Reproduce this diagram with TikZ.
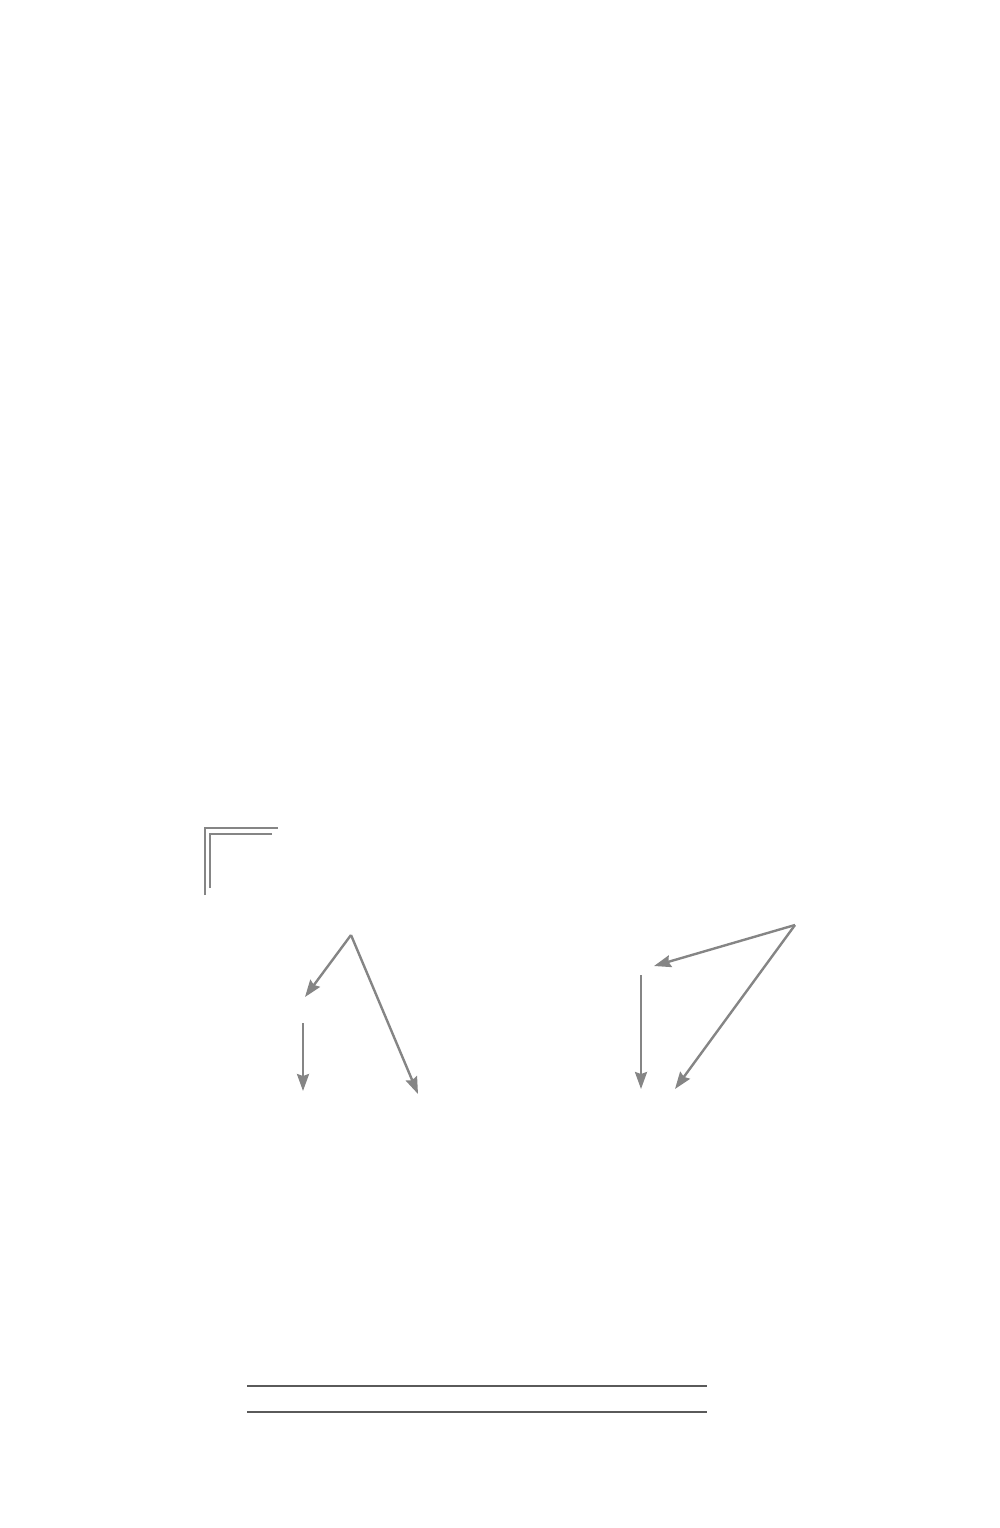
\documentclass[tikz,border=0pt]{standalone}
\usetikzlibrary{arrows.meta}
\definecolor{arrowgray}{HTML}{858585}
\definecolor{rulegray}{HTML}{5A5A5A}
\begin{document}
\begin{tikzpicture}[x=1pt,y=-1pt,
  conn/.style={draw=arrowgray,line width=2.4pt,-{Stealth[length=17pt,width=12pt,inset=2pt]}},
  bracket/.style={draw=arrowgray,line width=1.8pt},
  rulestyle/.style={draw=rulegray,line width=1.7pt}]
\useasboundingbox (0,0) rectangle (1000,1528);
% corner bracket
\coordinate (b1a) at (205,895); \coordinate (b1b) at (205,828); \coordinate (b1c) at (278,828);
\coordinate (b2a) at (210,888); \coordinate (b2b) at (210,834); \coordinate (b2c) at (272,834);
\draw[bracket] (b1a) -- (b1b) -- (b1c);
\draw[bracket] (b2a) -- (b2b) -- (b2c);
% left group
\coordinate (la) at (351,935);
\coordinate (lb) at (305,997);
\coordinate (lc) at (418,1094);
\coordinate (ld) at (303,1023);
\coordinate (le) at (303,1091);
\draw[conn] (la) -- (lb);
\draw[conn] (la) -- (lc);
\draw[conn] (ld) -- (le);
% right group
\coordinate (ra) at (795,925);
\coordinate (rb) at (654,966);
\coordinate (rc) at (675,1089);
\coordinate (rd) at (641,975);
\coordinate (re) at (641,1089);
\draw[conn] (ra) -- (rb);
\draw[conn] (ra) -- (rc);
\draw[conn] (rd) -- (re);
% bottom rules
\coordinate (r1a) at (247,1386); \coordinate (r1b) at (707,1386);
\coordinate (r2a) at (247,1412); \coordinate (r2b) at (707,1412);
\draw[rulestyle] (r1a) -- (r1b);
\draw[rulestyle] (r2a) -- (r2b);
\end{tikzpicture}
\end{document}
